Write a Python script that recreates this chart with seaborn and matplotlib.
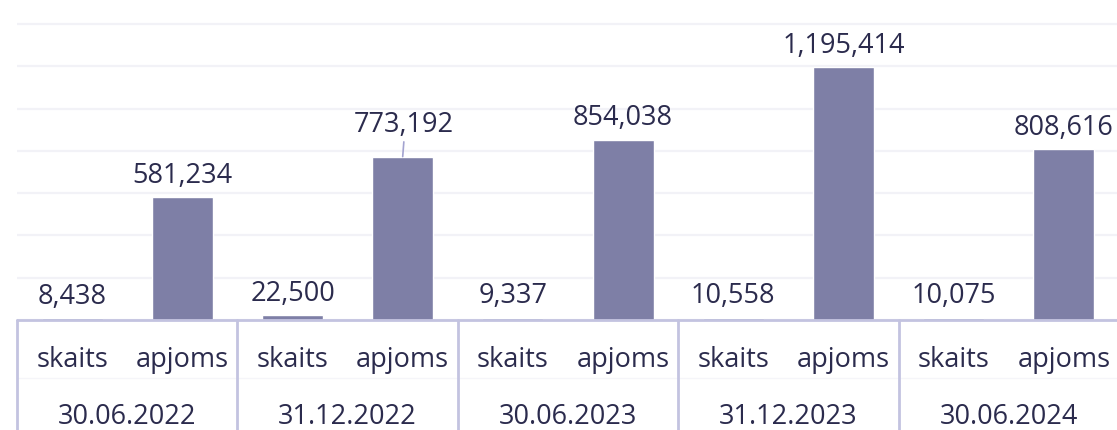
import matplotlib
matplotlib.use('Agg')
import matplotlib.pyplot as plt
import seaborn as sns
import pandas as pd

dates = ['30.06.2022', '31.12.2022', '30.06.2023', '31.12.2023', '30.06.2024']
measures = ['skaits', 'apjoms']
skaits = [8438, 22500, 9337, 10558, 10075]
apjoms = [581234, 773192, 854038, 1195414, 808616]

rows = []
for d, s, a in zip(dates, skaits, apjoms):
    rows.append({'slot': f'{d} skaits', 'date': d, 'measure': 'skaits', 'value': s})
    rows.append({'slot': f'{d} apjoms', 'date': d, 'measure': 'apjoms', 'value': a})
df = pd.DataFrame(rows)

sns.set_theme(style='white')
plt.rcParams['font.family'] = ['Open Sans', 'DejaVu Sans']

bar_color = '#7e7fa6'
text_color = '#2b2b4d'
axis_color = '#c3c3e0'
grid_color = '#f2f2f7'
fs = 19.5

fig = plt.figure(figsize=(11.17, 4.30), dpi=100)
ax = fig.add_axes([17 / 1117, 110 / 430, 1102 / 1117, 317 / 430])

sns.barplot(data=df, x='slot', y='value', color=bar_color, width=0.555,
            saturation=1, ax=ax, zorder=2)

ax.set_xlim(-0.5, len(df) - 0.5)
ax.set_ylim(0, 1.5e6)
ax.set_yticks(range(0, 1400001, 200000))
ax.yaxis.grid(True, color=grid_color, linewidth=1.6, zorder=0)
ax.set_yticklabels([])
ax.tick_params(axis='y', length=0)
for s in ax.spines.values():
    s.set_visible(False)
ax.set_xlabel('')
ax.set_ylabel('')
ax.set_xticks(range(len(df)))
ax.set_xticklabels([])
ax.tick_params(axis='x', length=0)

# value labels
for i, v in enumerate(df['value']):
    label = f'{v:,}'
    if v == 773192:
        ax.annotate(label, xy=(i, v), xytext=(1, 18), textcoords='offset points',
                    ha='center', va='baseline', fontsize=fs, color=text_color,
                    arrowprops=dict(arrowstyle='-', color='#a3a3d0', lw=1.2,
                                    shrinkA=0, shrinkB=0,
                                    relpos=(0.5, 0)),
                    annotation_clip=False)
    else:
        ax.annotate(label, xy=(i, v), xytext=(0, 10.5), textcoords='offset points',
                    ha='center', va='baseline', fontsize=fs, color=text_color,
                    annotation_clip=False)

# category axis: baseline, separators, labels
trans = ax.get_xaxis_transform()
ax.plot([-0.5, len(df) - 0.5], [0, 0], color=axis_color, lw=2, transform=trans,
        clip_on=False, zorder=3)
ax.plot([-0.5, len(df) - 0.5], [-58 / 317, -58 / 317], color='#f5f5f9', lw=1,
        transform=trans, clip_on=False, zorder=1)
for g in range(len(dates) + 1):
    xs = g * 2 - 0.5
    ax.plot([xs, xs], [0, -115 / 317], color=axis_color, lw=2, transform=trans,
            clip_on=False, zorder=3)

for i, m in enumerate(df['measure']):
    ax.annotate(m, xy=(i, 0), xycoords=trans, xytext=(0, -28.5),
                textcoords='offset points', ha='center', va='center',
                fontsize=fs, color=text_color, annotation_clip=False)
for g, d in enumerate(dates):
    ax.annotate(d, xy=(g * 2 + 0.5, 0), xycoords=trans, xytext=(0, -70),
                textcoords='offset points', ha='center', va='center',
                fontsize=fs, color=text_color, annotation_clip=False)

fig.savefig('out.png', dpi=100)
plt.close(fig)
